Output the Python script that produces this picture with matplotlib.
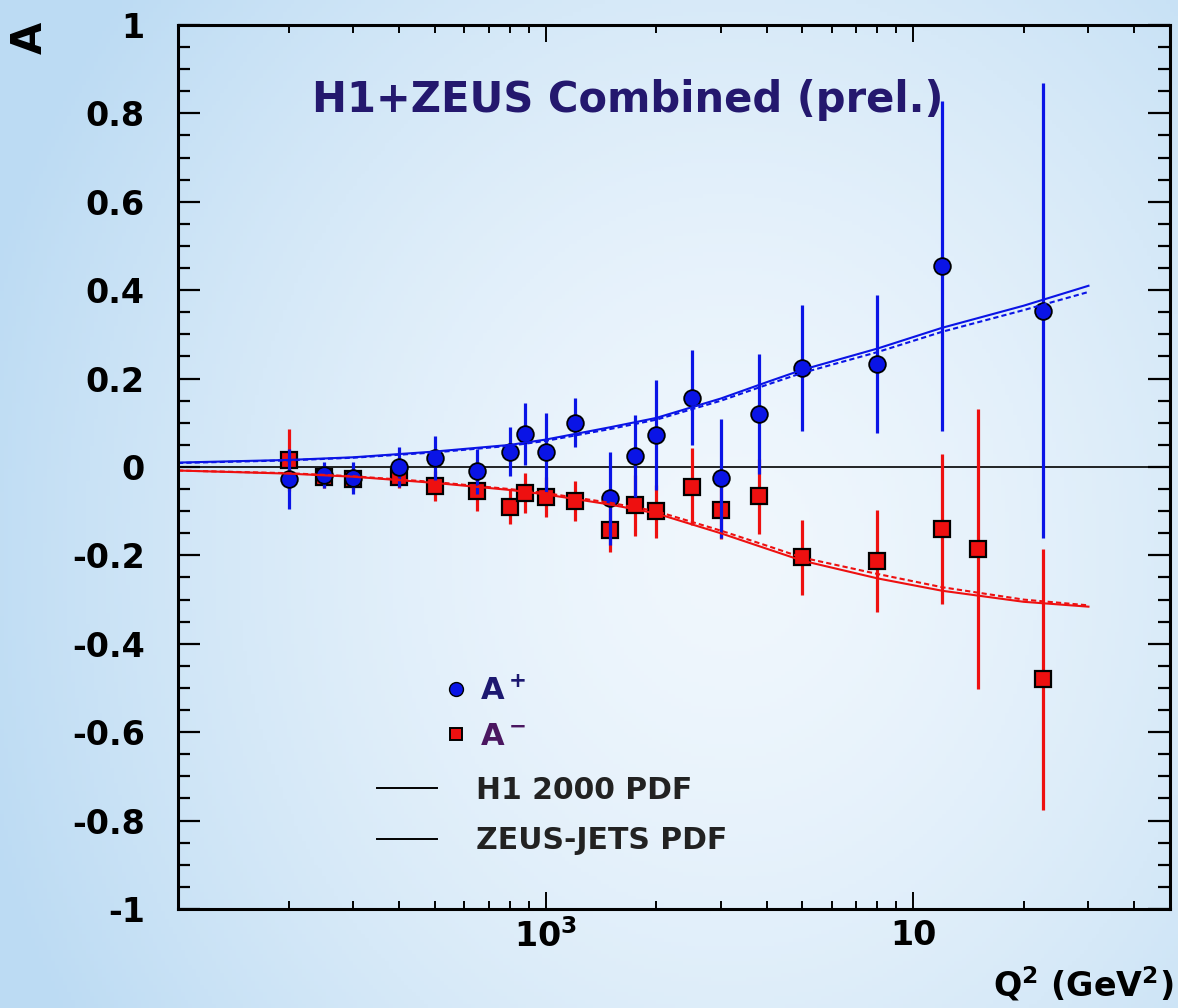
import numpy as np
import matplotlib
matplotlib.use('Agg')
import matplotlib.pyplot as plt
from matplotlib.lines import Line2D
from matplotlib.ticker import FixedLocator, NullFormatter

plt.rcParams['font.family'] = ['DejaVu Sans']
plt.rcParams['font.weight'] = 'bold'
plt.rcParams['mathtext.fontset'] = 'dejavusans'
plt.rcParams['mathtext.default'] = 'bf'

q2_plus = [200, 250, 300, 400, 500, 650, 800, 880, 1000, 1200, 1500, 1750, 2000,
           2500, 3000, 3800, 5000, 8000, 12000, 22600]
a_plus = [-0.028, -0.018, -0.025, 0.0, 0.02, -0.01, 0.035, 0.075, 0.033, 0.10, -0.071,
          0.024, 0.072, 0.157, -0.026, 0.12, 0.224, 0.233, 0.455, 0.354]
err_plus = [0.068, 0.03, 0.037, 0.045, 0.05, 0.05, 0.055, 0.07, 0.09, 0.055, 0.105,
            0.093, 0.125, 0.108, 0.135, 0.136, 0.142, 0.157, 0.373, 0.515]

q2_minus = [200, 250, 300, 400, 500, 650, 800, 880, 1000, 1200, 1500, 1750, 2000,
            2500, 3000, 3800, 5000, 8000, 12000, 15000, 22600]
a_minus = [0.016, -0.023, -0.028, -0.022, -0.043, -0.055, -0.09, -0.058, -0.068, -0.077,
           -0.142, -0.087, -0.1, -0.045, -0.098, -0.066, -0.204, -0.213, -0.14, -0.186, -0.48]
err_minus = [0.07, 0.025, 0.025, 0.025, 0.035, 0.045, 0.04, 0.045, 0.045, 0.045, 0.05,
             0.07, 0.06, 0.087, 0.065, 0.085, 0.085, 0.115, 0.17, 0.317, 0.295]

# theory curves (H1 2000 PDF solid, ZEUS-JETS PDF dashed)
q2_curve = [100, 200, 300, 500, 800, 1000, 1500, 2000, 3000, 4000, 5000, 8000, 12000, 20000, 30000]
h1_plus = [0.010, 0.016, 0.022, 0.035, 0.050, 0.062, 0.090, 0.111, 0.155, 0.192, 0.220,
           0.268, 0.315, 0.365, 0.410]
zeus_plus = [0.009, 0.015, 0.021, 0.033, 0.048, 0.059, 0.086, 0.107, 0.150, 0.186, 0.213,
             0.260, 0.306, 0.355, 0.396]
h1_minus = [-0.008, -0.015, -0.022, -0.036, -0.052, -0.062, -0.085, -0.105, -0.150, -0.185,
            -0.212, -0.252, -0.280, -0.305, -0.316]
zeus_minus = [-0.008, -0.014, -0.021, -0.034, -0.050, -0.059, -0.081, -0.100, -0.144, -0.178,
              -0.205, -0.242, -0.272, -0.300, -0.313]

ytick_vals = [1, 0.8, 0.6, 0.4, 0.2, 0, -0.2, -0.4, -0.6, -0.8, -1]
ytick_labels = ['1', '0.8', '0.6', '0.4', '0.2', '0', '-0.2', '-0.4', '-0.6', '-0.8', '-1']
xtick_vals = [1e3, 1e4]
xtick_labels = [r'$\mathbf{10^3}$', '10']

BLUE = '#0a14e6'
RED = '#ee1010'
NAVY = '#24186e'

W, H = 1178, 1008
fig = plt.figure(figsize=(W / 100, H / 100), dpi=100)

# background gradient
bg = fig.add_axes([0, 0, 1, 1], zorder=-10)
bg.axis('off')
gx, gy = np.meshgrid(np.linspace(0, 1, 300), np.linspace(0, 1, 260))
r = np.sqrt(((gx - 0.62) / 0.7) ** 2 + ((gy - 0.45) / 0.95) ** 2)
t = np.clip(r / 0.95, 0, 1) ** 1.5
c_in = np.array([240, 247, 253]) / 255
c_out = np.array([188, 219, 243]) / 255
img = c_in[None, None, :] * (1 - t[..., None]) + c_out[None, None, :] * t[..., None]
bg.imshow(img, extent=[0, 1, 0, 1], aspect='auto', origin='lower')
bg.set_xlim(0, 1)
bg.set_ylim(0, 1)

ax = fig.add_axes([178 / W, 99 / H, 992 / W, 884 / H])
ax.set_facecolor('none')
ax.set_xscale('log')
ax.set_xlim(100, 50000)
ax.set_ylim(-1, 1)

ax.axhline(0, color='black', lw=1.2, zorder=1)

ax.errorbar(q2_minus, a_minus, yerr=err_minus, fmt='s', color=RED, ecolor=RED,
            elinewidth=2.3, capsize=0, ms=12, mfc=RED, mec='black', mew=1.6, zorder=3)
ax.errorbar(q2_plus, a_plus, yerr=err_plus, fmt='o', color=BLUE, ecolor=BLUE,
            elinewidth=2.3, capsize=0, ms=12, mfc=BLUE, mec='black', mew=1.3, zorder=4)

ax.plot(q2_curve, h1_plus, color=BLUE, lw=1.5, zorder=5)
ax.plot(q2_curve, zeus_plus, color=BLUE, lw=1.5, ls=(0, (2.5, 1.5)), zorder=5)
ax.plot(q2_curve, h1_minus, color=RED, lw=1.5, zorder=5)
ax.plot(q2_curve, zeus_minus, color=RED, lw=1.5, ls=(0, (2.5, 1.5)), zorder=5)

# ticks
ax.set_yticks(ytick_vals, ytick_labels)
ax.yaxis.set_minor_locator(FixedLocator(np.arange(-1, 1.001, 0.05)))
ax.set_xticks(xtick_vals, xtick_labels)
xminor = [m * 10 ** e for e in (2, 3, 4) for m in range(2, 10) if m * 10 ** e < 50000]
ax.xaxis.set_minor_locator(FixedLocator(xminor))
ax.xaxis.set_minor_formatter(NullFormatter())
ax.tick_params(axis='both', which='both', direction='in', top=True, right=True, colors='black')
ax.tick_params(axis='y', which='major', length=16, width=1.6, labelsize=24, pad=24)
ax.tick_params(axis='y', which='minor', length=8.5, width=1.6)
ax.tick_params(axis='x', which='major', length=12, width=1.4, labelsize=24, pad=7)
ax.tick_params(axis='x', which='minor', length=6, width=1.4)
for lab in ax.get_yticklabels() + ax.get_xticklabels():
    lab.set_fontweight('bold')
for s in ax.spines.values():
    s.set_linewidth(2.2)
    s.set_zorder(6)

ax.text(0.135, 0.9016, 'H1+ZEUS Combined (prel.)', transform=ax.transAxes, color=NAVY,
        fontsize=30, fontweight='bold', ha='left', va='baseline', zorder=10)

fig.text(30 / W, 1 - 38 / H, 'A', rotation=90, fontsize=30, fontweight='bold',
         ha='center', va='center')
fig.text(1174 / W, 1 - 984 / H, r'$\mathbf{Q^2}$ (GeV$\mathbf{^2}$)', fontsize=24,
         fontweight='bold', ha='right', va='center')

# legends
h_plus = Line2D([], [], marker='o', ls='none', mfc=BLUE, mec='black', mew=1, ms=10)
h_minus = Line2D([], [], marker='s', ls='none', mfc=RED, mec='black', mew=1.4, ms=9)
leg1 = ax.legend([h_plus, h_minus], [r'$\mathbf{A^+}$', r'$\mathbf{A^-}$'], loc='upper left',
                 bbox_to_anchor=(0.271, 0.263), frameon=False, fontsize=22, borderpad=0,
                 borderaxespad=0, handlelength=0.6, handletextpad=0.5, labelspacing=0.52)
leg1.get_texts()[0].set_color('#1c1870')
leg1.get_texts()[1].set_color('#4a1660')
ax.add_artist(leg1)

h_l1 = Line2D([], [], color='black', lw=1.4)
h_l2 = Line2D([], [], color='black', lw=1.4)
leg2 = ax.legend([h_l1, h_l2], ['H1 2000 PDF', 'ZEUS-JETS PDF'], loc='upper left',
                 bbox_to_anchor=(0.2006, 0.151), frameon=False, borderpad=0, borderaxespad=0,
                 prop={'size': 21.5, 'weight': 'bold'}, handlelength=2.0, handletextpad=1.3,
                 labelspacing=0.72)
for tx in leg2.get_texts():
    tx.set_color('#222222')

fig.savefig('out.png', dpi=100)
